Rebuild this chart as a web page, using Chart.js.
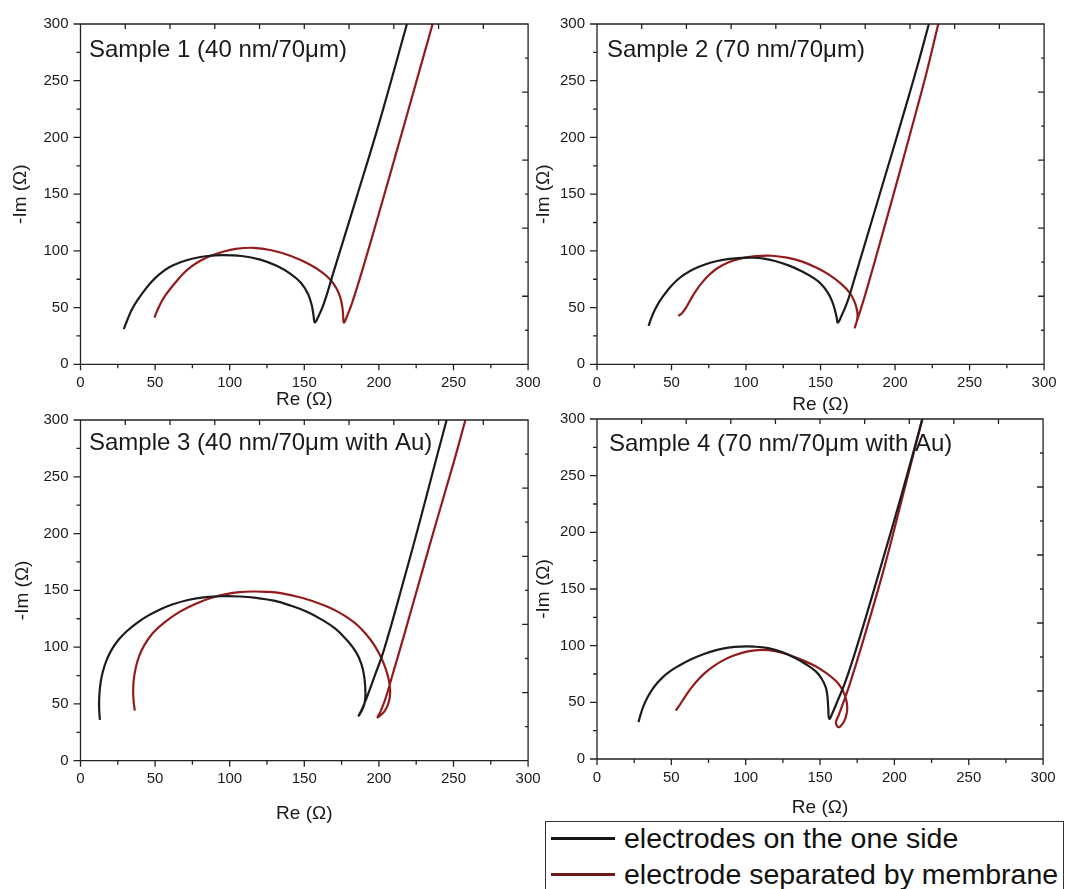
<!DOCTYPE html>
<html>
<head>
<meta charset="utf-8">
<title>Nyquist plots</title>
<script src="https://cdn.jsdelivr.net/npm/chart.js@4.4.0/dist/chart.umd.min.js"></script>
<style>
  html, body { margin: 0; padding: 0; background: #fff; }
  body { position: relative; width: 1067px; height: 889px; overflow: hidden; font-family: 'Liberation Sans', Arial, sans-serif; }
  canvas { position: absolute; }
  .legend { position: absolute; left: 545px; top: 821px; width: 517px; height: 80px; border: 1px solid #333; }
  .legend .row { position: absolute; left: 78px; font-size: 28.5px; line-height: 32px; color: #111; white-space: nowrap; }
  .legend .swatch { position: absolute; left: 5px; width: 64px; height: 3px; }
</style>
</head>
<body>
<div class="legend">
  <div class="swatch" style="top:15px;background:#151515"></div>
  <div class="row" style="top:0.4px">electrodes on the one side</div>
  <div class="swatch" style="top:51px;background:#6e1a1a"></div>
  <div class="row" style="top:36.4px">electrode separated by membrane</div>
</div>
<script>
// Sample 1 (40 nm/70 um)
const s1SideRe = [29, 31.5, 34.5, 38.2, 42.5, 47.5, 53, 59.5, 67, 75.5, 85, 95.4, 108, 120.5, 131.5, 141, 148, 152.5, 155, 156.2, 157, 159, 163, 170, 185, 200, 218.8]
const s1SideIm = [31, 39.5, 48.5, 56.5, 64.5, 72.5, 79.5, 85.5, 90, 93.3, 95.5, 96.3, 95.5, 92.3, 86.8, 79.5, 71.5, 62, 52, 43, 37, 41, 53, 83, 147, 212, 300]
const s1MembRe = [49.6, 51.5, 54, 57, 60.5, 64.5, 69, 74, 80, 87, 95, 104, 115.9, 128, 141, 153, 161.5, 167.5, 171.5, 174, 175.4, 176, 176.5, 178.5, 182, 188, 200, 218, 236]
const s1MembIm = [41.2, 47.5, 54.5, 61, 67, 73.5, 80, 85.8, 91, 95.5, 99, 101.7, 102.7, 100.5, 95.5, 88.5, 81.5, 74.5, 67, 59.5, 51.5, 44, 36.8, 42, 54, 79, 133, 216, 300]

// Sample 2 (70 nm/70 um)
const s2SideRe = [34.6, 36.5, 39, 42, 45.5, 49.5, 54, 59, 65, 72, 80, 89, 98, 103.5, 112, 119.4, 128.5, 137.7, 146, 151, 155, 157.8, 159.6, 160.8, 161.6, 164, 168, 172, 182, 193, 204, 214.9, 222.7]
const s2SideIm = [33.9, 41, 48.5, 55.5, 62, 68.5, 74.5, 79.5, 84, 87.8, 90.8, 92.9, 93.9, 94, 93.2, 91.1, 87.2, 81.8, 75.5, 70, 63, 55.5, 48, 41.5, 36.8, 42.5, 55, 72, 116, 164.5, 213, 262.5, 300]
const s2MembRe = [54.5, 57, 60, 63, 66.5, 70.5, 75, 80.7, 88, 96.6, 106.5, 117.2, 127.5, 137.7, 147, 155.9, 163.5, 169.6, 172.7, 174.6, 174.7, 173.8, 173, 174.5, 177, 182, 192, 203, 214, 221.5, 229]
const s2MembIm = [42.6, 45, 50.5, 57.5, 65, 72, 78.5, 84.7, 89.8, 93.4, 95.3, 95.7, 94, 90.5, 85.3, 78.9, 71.3, 63, 55.5, 47, 40.5, 35.5, 32.5, 38.5, 48.5, 70.5, 117, 169, 222, 259, 300]

// Sample 3 (40 nm/70 um with Au)
const s3SideRe = [13, 12.5, 12.6, 13.4, 15, 17.5, 21, 25.5, 31, 37.5, 45, 53, 61.5, 72, 83.9, 95, 106.8, 118, 129.7, 141, 152.5, 162, 170.8, 178, 184.5, 188.3, 190.3, 191, 190.3, 188.5, 186.4, 188.5, 192, 197, 203.5, 216.9, 227.9, 238.9, 245.4]
const s3SideIm = [35.9, 46, 57, 68, 78.5, 88.5, 98, 106.5, 114, 121, 127.5, 133, 137.5, 141.5, 144, 144.8, 144.6, 143.3, 140.9, 136.5, 130.8, 124, 116.3, 107, 96, 85, 72.9, 58.4, 50, 44, 39.6, 45, 56, 74, 98, 160, 213, 268, 300]
const s3MembRe = [36.4, 35.6, 35.3, 35.7, 37, 39.3, 42.8, 48.5, 56.5, 67, 79.4, 88.5, 97.6, 106.5, 115.9, 125, 134.2, 149.5, 164, 172, 179, 185.5, 191, 196, 200.5, 204, 206.5, 207.5, 207.2, 205.8, 203.5, 201, 199.1, 201, 204.5, 209, 217, 227.8, 238.9, 250, 258]
const s3MembIm = [44, 52.5, 61.3, 71.5, 81.6, 92, 101.8, 112.5, 122.1, 131.5, 139.4, 143.7, 146.7, 148.5, 149, 148.7, 147.5, 143, 136.5, 131.5, 126, 119.5, 112, 103.5, 93.5, 83, 72, 62.8, 55, 48.5, 43, 40, 38.2, 43, 55, 75, 111, 161, 212, 262, 300]

// Sample 4 (70 nm/70 um with Au)
const s4SideRe = [27.9, 29.5, 31.5, 34, 37, 40.5, 44.5, 49, 54, 62.6, 71.5, 80.8, 88.5, 96.8, 106, 115.1, 124.5, 133.3, 140.5, 147, 151, 153.9, 155, 155.5, 156.2, 158.5, 162, 167, 175, 190, 205, 218.8]
const s4SideIm = [32.5, 40, 47.5, 54.5, 61, 67, 72.5, 77.3, 81.5, 87.6, 92.5, 96.3, 98.3, 99.2, 99.1, 97.8, 94.3, 89.1, 83.6, 77.5, 71, 63, 55, 45.5, 35.4, 41, 52, 68, 100, 166, 234, 300]
const s4MembRe = [53, 56, 59.5, 63.5, 68, 73, 78.5, 84.5, 92, 101.4, 110.5, 120, 128.8, 138, 147, 154.5, 160.7, 164, 166.4, 167.8, 168.3, 167.8, 166.4, 164.8, 163, 161.5, 160.7, 162.5, 166, 170, 178, 193, 206, 218.8]
const s4MembIm = [42.6, 48.5, 55.5, 63, 70, 76.5, 82, 86.8, 91.3, 94.9, 96.3, 95.2, 92, 87.3, 81.8, 75.5, 68.8, 63.5, 57.2, 51, 45.5, 39.5, 33.9, 30.5, 28.1, 29, 32.5, 38.5, 51, 66, 100, 168, 234, 300]

const axisMin = 0
const axisMax = 300
const labelStep = 50
const xTitle = 'Re (\u03a9)'
const yTitle = '-Im (\u03a9)'

const SIDE_COLOR = '#1c1c1c'
const MEMB_COLOR = '#931b1b'
const FONT = '"Liberation Sans", Arial, sans-serif'
const TITLE_SIZE = 19
const TITLE_HALF = TITLE_SIZE * 1.2 / 2

// page geometry of every panel (plot box, axis titles, panel label)
const panels = [
  { text: 'Sample 1 (40 nm/70\u03bcm)', side: [s1SideRe, s1SideIm], memb: [s1MembRe, s1MembIm],
    area: { l: 80.5, t: 19.3, r: 531.5, b: 364.3 }, xTitleY: 400, yTitleX: 20.7, dx: 8.5, dy: 33.2 },
  { text: 'Sample 2 (70 nm/70\u03bcm)', side: [s2SideRe, s2SideIm], memb: [s2MembRe, s2MembIm],
    area: { l: 597, t: 19.3, r: 1047.5, b: 364.3 }, xTitleY: 404.3, yTitleX: 543.7, dx: 10, dy: 33.2 },
  { text: 'Sample 3 (40 nm/70\u03bcm with Au)', side: [s3SideRe, s3SideIm], memb: [s3MembRe, s3MembIm],
    area: { l: 80.5, t: 415, r: 531.5, b: 760.7 }, xTitleY: 813.3, yTitleX: 22.4, dx: 8.5, dy: 30 },
  { text: 'Sample 4 (70 nm/70\u03bcm with Au)', side: [s4SideRe, s4SideIm], memb: [s4MembRe, s4MembIm],
    area: { l: 597, t: 414.3, r: 1047, b: 759 }, xTitleY: 807.3, yTitleX: 543.7, dx: 12, dy: 32.4 }
]

function toPoints(re, im) {
  return re.map((x, i) => ({ x, y: im[i] }))
}

// box frame with Origin-like ticks: out on bottom/left, in on top/right
const framePlugin = {
  id: 'frame',
  afterDatasetsDraw(chart) {
    const { ctx, chartArea: a, scales: { x, y } } = chart
    ctx.save()
    ctx.strokeStyle = '#222'
    ctx.lineWidth = 1.3
    ctx.beginPath()
    ctx.rect(a.left, a.top, a.right - a.left, a.bottom - a.top)
    for (let v = axisMin; v <= axisMax; v += 25) {
      const major = v % 50 === 0
      const px = x.getPixelForValue(v)
      const py = y.getPixelForValue(v)
      ctx.moveTo(px, a.bottom)
      ctx.lineTo(px, a.bottom + (major ? 6 : 4))
      ctx.moveTo(a.left, py)
      ctx.lineTo(a.left - (major ? 7 : 4), py)
    }
    for (let v = 30; v < axisMax; v += 30) {
      const px = x.getPixelForValue(v)
      const py = y.getPixelForValue(v)
      ctx.moveTo(px, a.top)
      ctx.lineTo(px, a.top + 5)
      ctx.moveTo(a.right, py)
      ctx.lineTo(a.right - (v % 60 === 0 ? 6 : 3), py)
    }
    ctx.stroke()
    ctx.restore()
  }
}

const panelLabel = {
  id: 'panelLabel',
  beforeDatasetsDraw(chart, args, opts) {
    const { ctx, chartArea: a } = chart
    ctx.save()
    ctx.font = '24px ' + FONT
    ctx.fillStyle = '#1a1a1a'
    ctx.textBaseline = 'alphabetic'
    ctx.fillText(opts.text, a.left + opts.dx, a.top + opts.dy)
    ctx.restore()
  }
}

function makeAxis(title, pad, fit) {
  return {
    type: 'linear',
    min: axisMin,
    max: axisMax,
    grid: { display: false, drawTicks: false },
    border: { display: false },
    ticks: {
      stepSize: labelStep,
      color: '#1a1a1a',
      font: { family: FONT, size: 15 },
      padding: pad,
      maxRotation: 0,
      autoSkip: false
    },
    title: {
      display: true,
      text: title,
      color: '#1a1a1a',
      padding: 0,
      font: { family: FONT, size: TITLE_SIZE }
    },
    afterFit: fit
  }
}

panels.forEach((p) => {
  const a = p.area
  const left = Math.floor(p.yTitleX - TITLE_HALF - 2)
  const top = Math.floor(a.t - 16)
  const right = Math.ceil(a.r + 18)
  const bottom = Math.ceil(p.xTitleY + TITLE_HALF)
  const pad = {
    left: p.yTitleX - TITLE_HALF - left,
    top: a.t - top,
    right: right - a.r,
    bottom: bottom - (p.xTitleY + TITLE_HALF)
  }
  const yWidth = a.l - left - pad.left
  const xHeight = bottom - pad.bottom - a.b

  const canvas = document.createElement('canvas')
  canvas.width = right - left
  canvas.height = bottom - top
  canvas.style.left = left + 'px'
  canvas.style.top = top + 'px'
  document.body.appendChild(canvas)

  new Chart(canvas, {
    type: 'scatter',
    data: {
      datasets: [
        { label: 'electrodes on the one side', data: toPoints(p.side[0], p.side[1]), borderColor: SIDE_COLOR },
        { label: 'electrode separated by membrane', data: toPoints(p.memb[0], p.memb[1]), borderColor: MEMB_COLOR }
      ]
    },
    options: {
      responsive: false,
      animation: false,
      showLine: true,
      layout: { padding: pad },
      elements: {
        point: { radius: 0, hoverRadius: 0 },
        line: { borderWidth: 2.2, tension: 0.4, fill: false }
      },
      scales: {
        x: makeAxis(xTitle, 9.4, (s) => { s.height = xHeight }),
        y: makeAxis(yTitle, 12, (s) => { s.width = yWidth })
      },
      plugins: {
        legend: { display: false },
        tooltip: { enabled: false },
        panelLabel: { text: p.text, dx: p.dx, dy: p.dy }
      }
    },
    plugins: [panelLabel, framePlugin]
  })
})
</script>
</body>
</html>
